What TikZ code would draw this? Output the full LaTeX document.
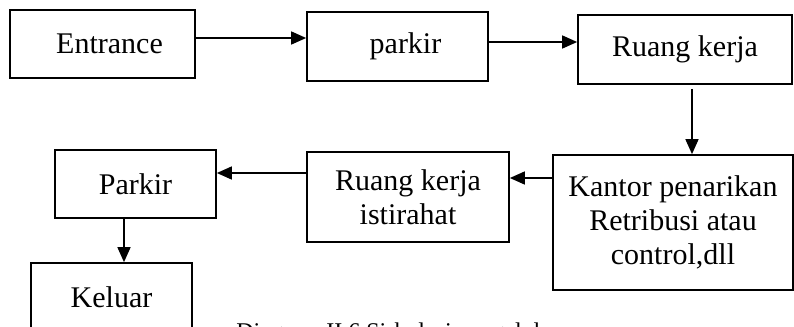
\documentclass[tikz,border=0pt]{standalone}
\usepackage{fontspec}
\setmainfont{Liberation Serif}
\usetikzlibrary{arrows.meta}
\begin{document}
\begin{tikzpicture}[x=0.5pt,y=-0.5pt,
  box/.style={draw, line width=0.85pt, inner sep=0pt, align=center,
    font=\fontsize{15}{17}\selectfont},
  arr/.style={line width=0.75pt, -{Triangle[length=7.5pt,width=6.5pt]}}]
\useasboundingbox (0,0) rectangle (794,327);
\clip (0,0) rectangle (794,327);
\node[box, minimum width=92.5pt, minimum height=34pt] (entrance) at (102.5,44) {\hspace*{7pt}Entrance};
\node[box, minimum width=90.5pt, minimum height=34.5pt] (parkir) at (397.5,46.5) {\hspace*{8pt}parkir};
\node[box, minimum width=107pt, minimum height=34.5pt] (ruang) at (685,49.5) {Ruang kerja};
\node[box, minimum width=120pt, minimum height=67.5pt] (kantor) at (673,222.5) {Kantor penarikan\\Retribusi atau\\control,dll};
\node[box, minimum width=101pt, minimum height=45pt] (ist) at (408,197) {Ruang kerja\\istirahat};
\node[box, minimum width=80.5pt, minimum height=34pt] (parkir2) at (135.5,184) {Parkir};
\node[box, minimum width=80.5pt, minimum height=38.5pt] (keluar) at (111.5,301.5) {\raisebox{4.25pt}{Keluar}};
\node[anchor=base west, inner sep=0pt, font=\fontsize{12}{14}\selectfont] (cap) at (236,339) {Diagram II.6 Sirkulasi pengelola};
\draw[arr] ([yshift=3pt]entrance.east) -- ([yshift=3pt]entrance.east -| parkir.west);
\draw[arr] ([yshift=2.25pt]parkir.east) -- ([yshift=2.25pt]parkir.east -| ruang.west);
\draw[arr] ([xshift=3.5pt,yshift=-2pt]ruang.south) -- ([xshift=3.5pt]ruang.south |- kantor.north);
\draw[arr] ([yshift=22.25pt]kantor.west) -- ([yshift=22.25pt]kantor.west -| ist.east);
\draw[arr] ([yshift=12pt]ist.west) -- ([yshift=12pt]ist.west -| parkir2.east);
\draw[arr] ([xshift=-5.75pt]parkir2.south) -- ([xshift=-5.75pt]parkir2.south |- keluar.north);
\end{tikzpicture}
\end{document}
